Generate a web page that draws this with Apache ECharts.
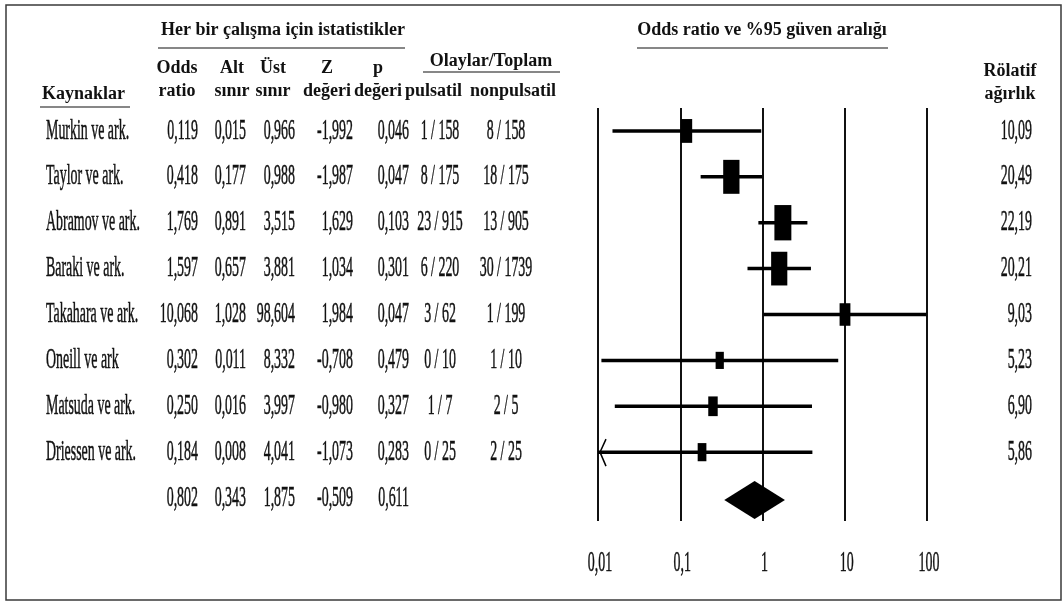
<!DOCTYPE html>
<html>
<head>
<meta charset="utf-8">
<title>Odds ratio ve %95 güven aralığı</title>
<script src="https://cdn.jsdelivr.net/npm/echarts@6.0.0/dist/echarts.min.js"></script>
<style>
html, body { margin: 0; padding: 0; background: #fff; }
#main { width: 1063px; height: 602px; }
</style>
</head>
<body>
<div id="main"></div>
<script>
// veriler
var studies = ['Murkin ve ark.', 'Taylor ve ark.', 'Abramov ve ark.', 'Baraki ve ark.',
	'Takahara ve ark.', 'Oneill ve ark', 'Matsuda ve ark.', 'Driessen ve ark.'];
var oddsRatio = [0.119, 0.418, 1.769, 1.597, 10.068, 0.302, 0.250, 0.184];
var lowerLimit = [0.015, 0.177, 0.891, 0.657, 1.028, 0.011, 0.016, 0.008];
var upperLimit = [0.966, 0.988, 3.515, 3.881, 98.604, 8.332, 3.997, 4.041];
var zValue = [-1.992, -1.987, 1.629, 1.034, 1.984, -0.708, -0.980, -1.073];
var pValue = [0.046, 0.047, 0.103, 0.301, 0.047, 0.479, 0.327, 0.283];
var pulsatil = ['1 / 158', '8 / 175', '23 / 915', '6 / 220', '3 / 62', '0 / 10', '1 / 7', '0 / 25'];
var nonpulsatil = ['8 / 158', '18 / 175', '13 / 905', '30 / 1739', '1 / 199', '1 / 10', '2 / 5', '2 / 25'];
var weights = [10.09, 20.49, 22.19, 20.21, 9.03, 5.23, 6.90, 5.86];
// toplam satiri: odds ratio, alt, ust, z, p
var summaryStats = [0.802, 0.343, 1.875, -0.509, 0.611];
var xTicks = [0.01, 0.1, 1, 10, 100];

var rowNames = studies.concat(['']);
var xMin = xTicks[0], xMax = xTicks[xTicks.length - 1];

var BODY_FONT = '29px "Liberation Serif"';
var HEAD_FONT = 'bold 18px "Liberation Serif"';
var SQUEEZE = 0.48; // dar (condensed) yazi

// tablo sutunlari: x konumu ve hizalama
var tableCols = [
	{ x: 46, align: 'left' },
	{ x: 198, align: 'right' },
	{ x: 246, align: 'right' },
	{ x: 295, align: 'right' },
	{ x: 353, align: 'right' },
	{ x: 409, align: 'right' },
	{ x: 440, align: 'center' },
	{ x: 506, align: 'center' }
];
var weightCol = { x: 1032, align: 'right' };

function fmt(v, d) {
	return v.toFixed(d).replace('.', ',');
}

function squeezed(x, y, text, align) {
	return {
		type: 'text',
		x: x,
		y: y,
		scaleX: SQUEEZE,
		style: {
			text: text,
			font: BODY_FONT,
			fill: '#111',
			stroke: '#111',
			lineWidth: 0.5,
			align: align,
			verticalAlign: 'middle',
			textAlign: align,
			textVerticalAlign: 'middle'
		}
	};
}

function head(x, y, text, align) {
	return {
		type: 'text',
		x: x,
		y: y,
		style: {
			text: text,
			font: HEAD_FONT,
			fill: '#111',
			align: align || 'center',
			verticalAlign: 'middle',
			textAlign: align || 'center',
			textVerticalAlign: 'middle'
		}
	};
}

function rule(x1, x2, y) {
	return {
		type: 'line',
		shape: { x1: x1, y1: y, x2: x2, y2: y },
		style: { stroke: '#111', lineWidth: 1.2 }
	};
}

// satir verileri
var tableData = rowNames.map(function (n, i) { return [1, i]; });
var forestData = studies.map(function (s, i) {
	return [i, oddsRatio[i], lowerLimit[i], upperLimit[i], weights[i]];
});
var diamondData = [[studies.length, summaryStats[0], summaryStats[1], summaryStats[2]]];
var tickData = xTicks.map(function (t) { return [t, studies.length]; });

var option = {
	backgroundColor: '#fff',
	animation: false,
	grid: { left: 598, right: 136, top: 108, height: 413 },
	xAxis: {
		type: 'log',
		logBase: 10,
		min: xMin,
		max: xMax,
		axisLine: { show: false },
		axisTick: { show: false },
		axisLabel: { show: false },
		splitLine: { show: true, lineStyle: { color: '#111', width: 2 } }
	},
	yAxis: {
		type: 'category',
		data: rowNames,
		inverse: true,
		show: false
	},
	series: [{
		// tablo metinleri
		type: 'custom',
		name: 'tablo',
		clip: false,
		silent: true,
		data: tableData,
		encode: { x: 0, y: 1 },
		renderItem: function (params, api) {
			var i = api.value(1);
			var y = api.coord([1, i])[1];
			var texts;
			if (i < studies.length) {
				texts = [studies[i], fmt(oddsRatio[i], 3), fmt(lowerLimit[i], 3), fmt(upperLimit[i], 3),
					fmt(zValue[i], 3), fmt(pValue[i], 3), pulsatil[i], nonpulsatil[i]];
			} else {
				texts = ['', fmt(summaryStats[0], 3), fmt(summaryStats[1], 3), fmt(summaryStats[2], 3),
					fmt(summaryStats[3], 3), fmt(summaryStats[4], 3), '', ''];
			}
			var children = texts.map(function (t, c) {
				return squeezed(tableCols[c].x, y, t, tableCols[c].align);
			});
			if (i < studies.length) {
				children.push(squeezed(weightCol.x, y, fmt(weights[i], 2), weightCol.align));
			}
			return { type: 'group', children: children };
		}
	}, {
		// guven araliklari ve kareler
		type: 'custom',
		name: 'forest',
		clip: false,
		silent: true,
		data: forestData,
		encode: { x: [1, 2, 3], y: 0 },
		renderItem: function (params, api) {
			var i = api.value(0);
			var or = api.value(1), lo = api.value(2), hi = api.value(3), w = api.value(4);
			var yc = api.coord([1, i])[1];
			var xl = api.coord([Math.max(lo, xMin), i])[0];
			var xh = api.coord([Math.min(hi, xMax), i])[0];
			var xo = api.coord([or, i])[0];
			var bw = 3.6 * Math.sqrt(w), bh = 7.5 * Math.sqrt(w);
			var children = [{
				type: 'line',
				shape: { x1: xl, y1: yc, x2: xh, y2: yc },
				style: { stroke: '#000', lineWidth: 3.5 }
			}, {
				type: 'rect',
				shape: { x: xo - bw / 2, y: yc - bh / 2, width: bw, height: bh },
				style: { fill: '#000' }
			}];
			if (lo < xMin) {
				// eksen disina tasan alt sinir icin ok
				children.push({
					type: 'polyline',
					shape: { points: [[xl + 8, yc - 13], [xl + 2, yc], [xl + 8, yc + 14]] },
					style: { stroke: '#000', lineWidth: 1.5, fill: null }
				});
			}
			return { type: 'group', children: children };
		}
	}, {
		// toplam etki (elmas)
		type: 'custom',
		name: 'toplam',
		clip: false,
		silent: true,
		data: diamondData,
		encode: { x: [1, 2, 3], y: 0 },
		renderItem: function (params, api) {
			var i = api.value(0);
			var yc = api.coord([1, i])[1] + 2;
			var xo = api.coord([api.value(1), i])[0];
			var xl = api.coord([api.value(2), i])[0];
			var xh = api.coord([api.value(3), i])[0];
			return {
				type: 'polygon',
				shape: { points: [[xl, yc], [xo, yc - 19], [xh, yc], [xo, yc + 19]] },
				style: { fill: '#000' }
			};
		}
	}, {
		// x ekseni etiketleri
		type: 'custom',
		name: 'etiketler',
		clip: false,
		silent: true,
		data: tickData,
		encode: { x: 0, y: 1 },
		renderItem: function (params, api) {
			var t = api.value(0);
			var x = api.coord([t, api.value(1)])[0];
			var y = params.coordSys.y + params.coordSys.height + 42;
			return squeezed(x + 2, y, String(t).replace('.', ','), 'center');
		}
	}],
	graphic: [{
		type: 'rect',
		shape: { x: 6, y: 5, width: 1055, height: 595 },
		style: { fill: null, stroke: '#3a3a3a', lineWidth: 1.5 },
		silent: true
	},
	head(283, 30, 'Her bir çalışma için istatistikler'),
	rule(158, 405, 48),
	head(491, 61, 'Olaylar/Toplam'),
	rule(423, 560, 72),
	head(177, 68, 'Odds'), head(177, 91, 'ratio'),
	head(232, 68, 'Alt'), head(232, 91, 'sınır'),
	head(273, 68, 'Üst'), head(273, 91, 'sınır'),
	head(327, 68, 'Z'), head(327, 91, 'değeri'),
	head(378, 68, 'p'), head(378, 91, 'değeri'),
	head(405, 91, 'pulsatil', 'left'),
	head(470, 91, 'nonpulsatil', 'left'),
	head(42, 94, 'Kaynaklar', 'left'),
	rule(40, 130, 107),
	head(762, 30, 'Odds ratio ve %95 güven aralığı'),
	rule(637, 888, 48),
	head(1010, 71, 'Rölatif'),
	head(1010, 94, 'ağırlık')
	]
};

var myChart = echarts.init(document.getElementById('main'));
myChart.setOption(option, true);
</script>
</body>
</html>
